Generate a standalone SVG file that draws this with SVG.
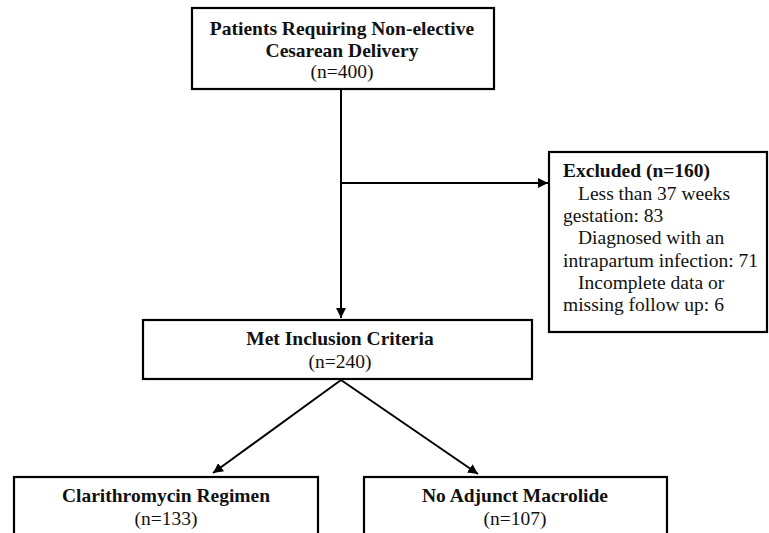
<svg xmlns="http://www.w3.org/2000/svg" width="769" height="533" viewBox="0 0 769 533">
<style>
text{font-family:'Liberation Serif','Times New Roman',serif;font-size:19.5px;fill:#111}
.b{font-weight:bold}
.c{text-anchor:middle}
.box{fill:#fff;stroke:#000;stroke-width:2.2}
.ln{stroke:#000;stroke-width:2;fill:none}
</style>
<defs>
<marker id="ah" viewBox="0 0 10 10" refX="10" refY="5" markerWidth="10" markerHeight="10" markerUnits="userSpaceOnUse" orient="auto">
<path d="M0,0 L10,5 L0,10 z" fill="#000"/>
</marker>
</defs>
<rect width="769" height="533" fill="#fff"/>
<g id="connectors">
<line class="ln" x1="341" y1="89" x2="341" y2="318" marker-end="url(#ah)"/>
<line class="ln" x1="341" y1="183" x2="548" y2="183" marker-end="url(#ah)"/>
<line class="ln" x1="341" y1="380" x2="213" y2="473" marker-end="url(#ah)"/>
<line class="ln" x1="341" y1="380" x2="478" y2="474" marker-end="url(#ah)"/>
</g>
<g id="n1">
<rect class="box" x="192" y="8" width="302" height="81"/>
<text class="b c" x="342" y="35">Patients Requiring Non-elective</text>
<text class="b c" x="342" y="57">Cesarean Delivery</text>
<text class="c" x="342" y="78">(n=400)</text>
</g>
<g id="excluded">
<rect class="box" x="549" y="152" width="218" height="180"/>
<text class="b" x="563" y="177">Excluded (n=160)</text>
<text x="578" y="200">Less than 37 weeks</text>
<text x="563" y="222">gestation: 83</text>
<text x="578" y="244">Diagnosed with an</text>
<text x="563" y="267">intrapartum infection: 71</text>
<text x="578" y="289">Incomplete data or</text>
<text x="563" y="311">missing follow up: 6</text>
</g>
<g id="n2">
<rect class="box" x="143" y="320" width="389" height="59"/>
<text class="b c" x="340" y="345">Met Inclusion Criteria</text>
<text class="c" x="340" y="368">(n=240)</text>
</g>
<g id="n3">
<rect class="box" x="14" y="477" width="304" height="70"/>
<text class="b c" x="166" y="502">Clarithromycin Regimen</text>
<text class="c" x="166" y="525">(n=133)</text>
</g>
<g id="n4">
<rect class="box" x="364" y="477" width="303" height="70"/>
<text class="b c" x="515" y="502">No Adjunct Macrolide</text>
<text class="c" x="515" y="525">(n=107)</text>
</g>
</svg>
